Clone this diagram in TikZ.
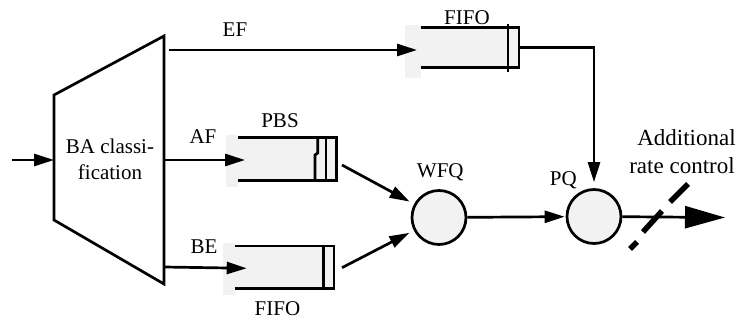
\documentclass[tikz,border=0pt]{standalone}
\usepackage{fontspec}
\setmainfont{Liberation Serif}
\usetikzlibrary{arrows.meta}
\definecolor{qgray}{HTML}{F2F2F2}
\begin{document}
\begin{tikzpicture}[x=1pt,y=-1pt, line width=2.7pt,
  every node/.style={font=\fontsize{21}{25}\selectfont, inner sep=0pt},
  lbl/.style={anchor=base},
  arr/.style={-{Triangle[length=20pt,width=12pt]}},
  bigarr/.style={-{Triangle[length=40pt,width=22pt]}},
  sched/.style={circle, draw, fill=qgray, minimum size=54pt, inner sep=0pt},
  ratedash/.style={line width=5.5pt}]
\useasboundingbox (0,0) rectangle (745,320);

% classifier
\coordinate (tl) at (54,95);
\coordinate (tr) at (164,36);
\coordinate (br) at (164,284);
\coordinate (bl) at (54,220);
\draw[line join=miter] (tl) -- (tr) -- (br) -- (bl) -- cycle;
\node[lbl] (ba1) at (110,154) {BA classi-};
\node[lbl] (ba2) at (110,179.3) {fication};
\coordinate (src) at (12,160);
\coordinate (bain) at (54,160);
\draw[arr] (src) -- (bain);

% EF queue
\fill[qgray] (405,25) rectangle (421,78);
\fill[qgray] (421,27.7) rectangle (519,67.7);
\draw (421,27.7) -- (519,27.7) -- (519,67.7) -- (421,67.7);
\draw (508,24) -- (508,71.7);
\coordinate (efstart) at (169,50);
\coordinate (efin) at (417,50);
\coordinate (efout) at (519,47.7);
\draw[arr] (efstart) -- (efin);
\node[lbl] (eflbl) at (235,36.7) {EF};
\node[lbl] (fifo1) at (467,25) {FIFO};

% AF queue
\fill[qgray] (226,135) rectangle (238,187.3);
\fill[qgray] (238,137.7) rectangle (336.7,180.7);
\draw (238,137.7) -- (336.7,137.7) -- (336.7,180.7) -- (238,180.7);
\draw (317.7,137.7) -- (317.7,153) -- (315,155) -- (315,180.7);
\draw (326,137.7) -- (326,180.7);
\coordinate (afstart) at (164,160);
\coordinate (afin) at (245,160);
\coordinate (afout) at (342,165);
\draw[arr] (afstart) -- (afin);
\node[lbl] (aflbl) at (203,143.3) {AF};
\node[lbl] (pbs) at (280,127.3) {PBS};

% BE queue
\fill[qgray] (222.7,242.7) rectangle (235,295);
\fill[qgray] (235,246) rectangle (334,288.3);
\draw (235,246) -- (334,246) -- (334,288.3) -- (235,288.3);
\draw (323.3,246) -- (323.3,288.3);
\coordinate (bestart) at (164,267);
\coordinate (bein) at (246.7,268.3);
\coordinate (beout) at (342,267.7);
\draw[arr] (bestart) -- (bein);
\node[lbl] (belbl) at (204,253.3) {BE};
\node[lbl] (fifo2) at (277.5,316) {FIFO};

% schedulers
\node[sched] (wfq) at (439,217.5) {};
\node[sched] (pq) at (594,216.5) {};
\node[lbl] (wfqlbl) at (440.3,177.3) {WFQ};
\node[lbl] (pqlbl) at (563.3,185.7) {PQ};

\draw[arr, shorten >=5pt] (afout) -- (wfq);
\draw[arr, shorten >=5pt] (beout) -- (wfq);
\draw[arr, shorten >=1pt] (wfq) -- (pq);
\draw[arr, shorten >=6pt] (efout) -| (pq);

% output
\coordinate (out) at (725,217.5);
\draw[bigarr] (pq) -- (out);
\coordinate (d1a) at (630,249);
\coordinate (d1b) at (637,242);
\coordinate (d2a) at (643,232);
\coordinate (d2b) at (662,211);
\coordinate (d3a) at (670,202);
\coordinate (d3b) at (688,184);
\draw[ratedash] (d1a) -- (d1b);
\draw[ratedash] (d2a) -- (d2b);
\draw[ratedash] (d3a) -- (d3b);
\node[lbl, font=\fontsize{23}{28}\selectfont] (add) at (686.5,145.7) {Additional};
\node[lbl, font=\fontsize{23}{28}\selectfont] (rate) at (682,174) {rate control};
\end{tikzpicture}
\end{document}
